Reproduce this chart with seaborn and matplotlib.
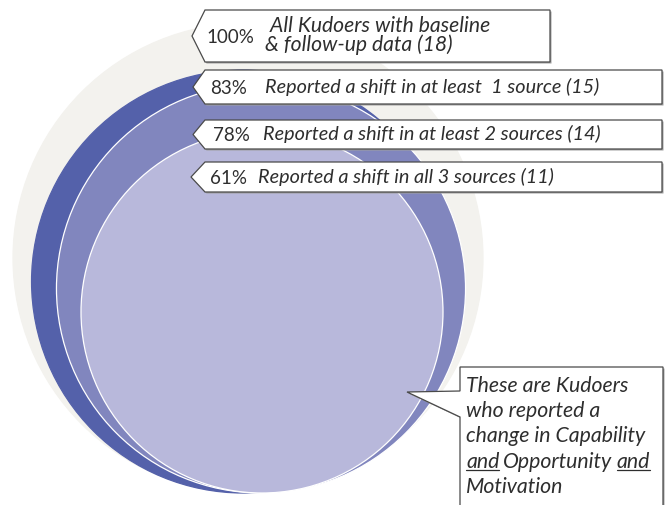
import numpy as np
import pandas as pd
import matplotlib
matplotlib.use('Agg')
import matplotlib.pyplot as plt
import seaborn as sns
from matplotlib.patches import Polygon

# data
groups = ['all', 'one', 'two', 'three']
pcts = [100, 83, 78, 61]
counts = [18, 15, 14, 11]
labels = [' All Kudoers with baseline\n& follow-up data',
          'Reported a shift in at least  1 source',
          'Reported a shift in at least 2 sources',
          'Reported a shift in all 3 sources']
colors = ['#f3f2ee', '#5461aa', '#8186be', '#b8b8db']
note_lines = ['These are Kudoers', 'who reported a', 'change in Capability',
              'and Opportunity and', 'Motivation']

# layout (pixels, figure is 667x506 at dpi 100)
DPI = 100
cx = [248, 243, 261, 262]
base_y = 494
r_small, r_big = 181, 235


def marker_area(r):
    return (2 * r * 72 / DPI) ** 2


# radius scales linearly with the percentage
lo, hi = min(pcts), max(pcts)
radii = [r_small + (p - lo) / (hi - lo) * (r_big - r_small) for p in pcts]
size_map = {p: marker_area(r) for p, r in zip(pcts, radii)}
cy = [base_y - r for r in radii]

df = pd.DataFrame({'group': groups, 'pct': pcts, 'x': cx, 'y': cy})

sns.set_theme(style='white')
plt.rcParams['font.family'] = ['Lato', 'DejaVu Sans']

fig = plt.figure(figsize=(6.67, 5.06), dpi=DPI)
ax = fig.add_axes([0, 0, 1, 1])
ax.set_xlim(0, 667)
ax.set_ylim(506, 0)
ax.axis('off')

edge = [colors[0], colors[1], 'white', 'white']
sns.scatterplot(data=df, x='x', y='y', hue='group', hue_order=groups,
                palette=dict(zip(groups, colors)), size='pct',
                sizes=size_map, legend=False,
                edgecolor=edge, linewidth=0.9, alpha=1, ax=ax, zorder=1)

txt_col = '#2e2e2e'
box_edge = '#4a4a4a'


def callout(pts):
    shadow = [(x + 1.5, y + 1.5) for x, y in pts]
    ax.add_patch(Polygon(shadow, closed=True, fc='#a0a0a0', ec='none', zorder=3))
    ax.add_patch(Polygon(pts, closed=True, fc='white', ec=box_edge, lw=0.9, zorder=4))


box_tops = [11, 71, 121, 163]
box_bots = [63, 105, 150, 193]
box_right = [550, 662, 662, 662]
tips = [192, 193, 193, 191]
pct_x = [206, 210, 213, 210]
desc_x = [265, 265, 263, 258]
desc_fs = [15.2, 14.3, 14.3, 14.3]

for i in range(4):
    t, b = box_tops[i], box_bots[i]
    callout([(205, t), (box_right[i], t), (box_right[i], b), (205, b), (tips[i], (t + b) / 2)])
    ym = (t + b) / 2
    ax.text(pct_x[i], ym, f'{pcts[i]}%', fontsize=13.5, color=txt_col,
            va='center', ha='left', zorder=5)
    ax.text(desc_x[i], ym - 1.5, f'{labels[i]} ({counts[i]})', fontsize=desc_fs[i],
            style='italic', color=txt_col, va='center', ha='left',
            linespacing=0.95, zorder=5)

# note callout at the bottom right
callout([(460, 368), (663, 368), (663, 512), (460, 512), (460, 418), (407, 393), (460, 392)])

note_x = 466
note_y = [392, 417, 442, 468, 493]
fs_note = 15.3
for i, line in enumerate(note_lines):
    if i == 3:
        continue
    ax.text(note_x, note_y[i], line, fontsize=fs_note, style='italic',
            color=txt_col, va='baseline', ha='left', zorder=5)

parts = note_lines[3].split(' ')
t1 = ax.text(note_x, note_y[3], parts[0], fontsize=fs_note, style='italic',
             color=txt_col, va='baseline', ha='left', zorder=5)
t2 = ax.annotate(parts[1], xy=(1, 0), xycoords=t1, xytext=(4, 0),
                 textcoords='offset pixels', fontsize=fs_note, style='italic',
                 color=txt_col, va='bottom', ha='left', zorder=5)
t3 = ax.annotate(parts[2], xy=(1, 0), xycoords=t2, xytext=(4, 0),
                 textcoords='offset pixels', fontsize=fs_note, style='italic',
                 color=txt_col, va='bottom', ha='left', zorder=5)

fig.canvas.draw()
inv = ax.transData.inverted()
for t in (t1, t3):
    bb = t.get_window_extent()
    (x0, _), (x1, _) = inv.transform(bb.get_points())
    ax.plot([x0, x1], [note_y[3] + 2.5] * 2, color=txt_col, lw=0.9, zorder=5)

fig.savefig('out.png', dpi=DPI)
